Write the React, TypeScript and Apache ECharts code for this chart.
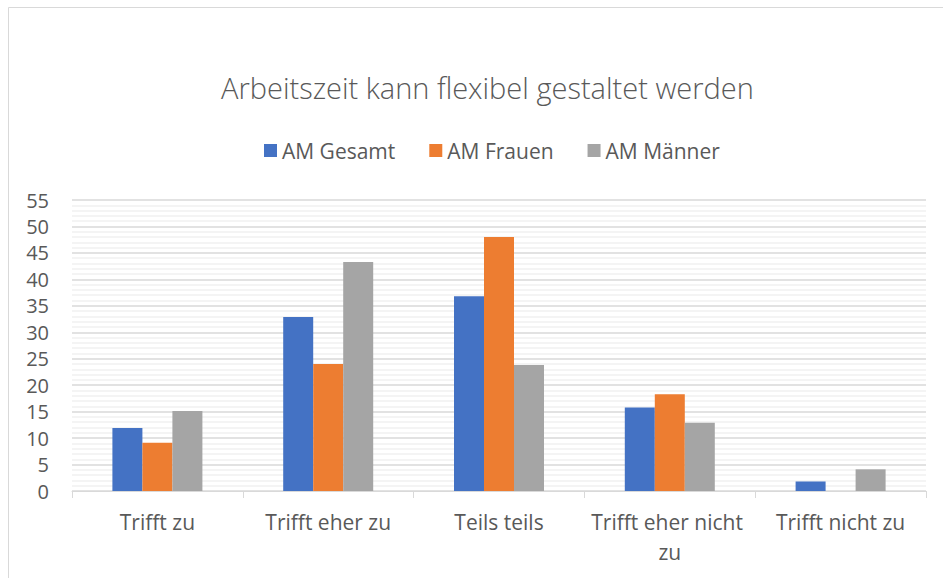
import React, { useEffect, useRef } from "react";
import * as echarts from "echarts";

const categories = ["Trifft zu", "Trifft eher zu", "Teils teils", "Trifft eher nicht zu", "Trifft nicht zu"];
const seriesNames = ["AM Gesamt", "AM Frauen", "AM Männer"];
const gesamt = [11.9, 32.9, 36.8, 15.8, 1.8];
const frauen = [9.1, 24.0, 48.0, 18.3, 0];
const maenner = [15.1, 43.3, 23.8, 12.9, 4.1];
const colors = ["#4472C4", "#ED7D31", "#A5A5A5"];
const yTicks = { min: 0, max: 55, interval: 5 };

const FONT = "'Open Sans', 'Noto Sans', sans-serif";

export default function App() {
  const ref = useRef<HTMLDivElement>(null);
  useEffect(() => {
    if (!ref.current) return;
    const chart = echarts.init(ref.current, null, { renderer: "svg" });
    const values = [gesamt, frauen, maenner];
    chart.setOption({
      animation: false,
      backgroundColor: "#ffffff",
      textStyle: { fontFamily: FONT },
      title: {
        text: "Arbeitszeit kann flexibel gestaltet werden",
        left: 216,
        top: 68,
        textStyle: { fontFamily: FONT, fontWeight: 300, fontSize: 29, color: "#595959" },
      },
      legend: {
        top: 135,
        left: 259,
        itemWidth: 13,
        itemHeight: 13,
        itemGap: 34,
        icon: "rect",
        textStyle: { fontFamily: FONT, fontSize: 21, color: "#595959" },
        data: seriesNames,
      },
      grid: { left: 72, right: 17, top: 200, bottom: 87, containLabel: false },
      xAxis: {
        type: "category",
        data: categories,
        axisLine: { lineStyle: { color: "#d9d9d9", width: 1 } },
        axisTick: { show: true, length: 7, lineStyle: { color: "#d9d9d9" } },
        axisLabel: {
          interval: 0,
          margin: 16,
          fontFamily: FONT,
          fontSize: 21,
          color: "#595959",
          width: 168,
          overflow: "break",
          lineHeight: 30,
        },
      },
      yAxis: {
        type: "value",
        min: yTicks.min,
        max: yTicks.max,
        interval: yTicks.interval,
        axisLine: { show: false },
        axisTick: { show: false },
        axisLabel: { margin: 23, fontFamily: FONT, fontSize: 20, color: "#595959" },
        splitLine: { lineStyle: { color: "#d9d9d9", width: 1.5 } },
        minorTick: { show: false, splitNumber: 5 },
        minorSplitLine: { show: true, lineStyle: { color: "#f0f0f0", width: 1.5 } },
      },
      graphic: [
        { type: "line", shape: { x1: 8.5, y1: 7.5, x2: 943, y2: 7.5 }, style: { stroke: "#d9d9d9", lineWidth: 1 } },
        { type: "line", shape: { x1: 8.5, y1: 7.5, x2: 8.5, y2: 578 }, style: { stroke: "#d9d9d9", lineWidth: 1 } },
      ],
      series: seriesNames.map((name, i) => ({
        name,
        type: "bar",
        data: values[i],
        barWidth: 30,
        barGap: "0%",
        itemStyle: { color: colors[i] },
      })),
    });
    return () => chart.dispose();
  }, []);
  return <div ref={ref} style={{ width: 943, height: 578, position: "absolute", left: 0, top: 0 }} />;
}
